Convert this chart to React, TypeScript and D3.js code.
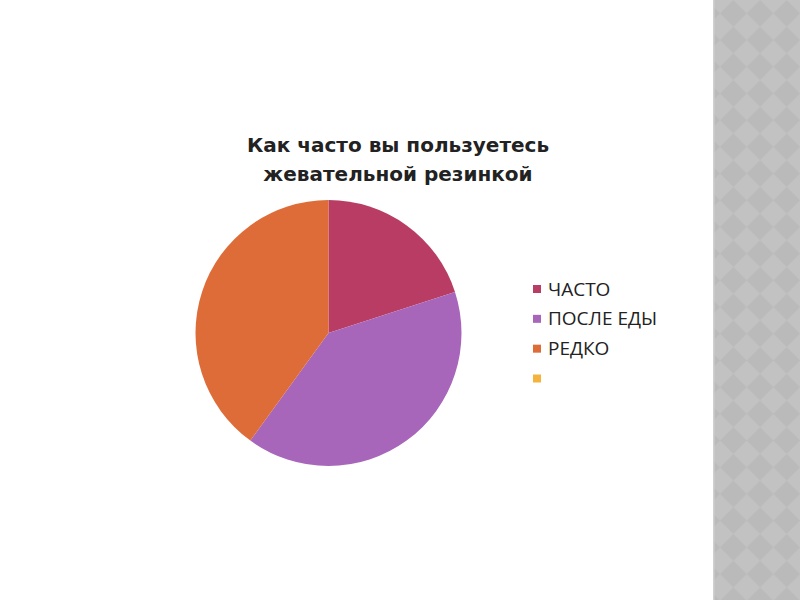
import React from "react";
import * as d3 from "d3";

const categories = ["ЧАСТО", "ПОСЛЕ ЕДЫ", "РЕДКО", ""];
const values = [20, 40, 40, 0];
const colors = ["#b83c64", "#a866bb", "#dd6c38", "#f4b33c"];
const titleLines = ["Как часто вы пользуетесь", "жевательной резинкой"];

export default function App() {
  const cx = 328.5, cy = 333, r = 133;
  const pie = d3.pie<number>().sort(null).value((d) => d)(values);
  const arc = d3.arc<d3.PieArcDatum<number>>().innerRadius(0).outerRadius(r);
  const legendY = d3.scalePoint<number>().domain(d3.range(categories.length)).range([289, 378.5]);
  const font = "'Open Sans', 'DejaVu Sans', sans-serif";
  return (
    <svg width={800} height={600} style={{ position: "absolute", left: 0, top: 0 }}>
      <defs>
        <pattern id="diam" patternUnits="userSpaceOnUse" width={26.7} height={26.7} x={720} y={0}>
          <rect width={26.7} height={26.7} fill="#c2c2c2" />
          <path d="M13.35,0 L26.7,13.35 L13.35,26.7 L0,13.35 Z" fill="#bababa" />
        </pattern>
      </defs>
      <rect width={800} height={600} fill="#ffffff" />
      <rect x={713} y={0} width={87} height={600} fill="url(#diam)" />
      <rect x={713} y={0} width={1.5} height={600} fill="#d0d0d0" />
      <g fontFamily="'DejaVu Sans', sans-serif" fontWeight={700} fontSize={20} fill="#222" textAnchor="middle">
        {titleLines.map((t, i) => (
          <text key={i} x={398} y={152 + i * 28.5}>{t}</text>
        ))}
      </g>
      <g transform={`translate(${cx},${cy})`}>
        {pie.map((p, i) => (
          <path key={i} d={arc(p) || ""} fill={colors[i]} />
        ))}
      </g>
      <g fontFamily={font} fontSize={19} fill="#222">
        {categories.map((c, i) => (
          <g key={i} transform={`translate(533,${legendY(i)})`}>
            <rect x={0} y={-4} width={8} height={8} fill={colors[i]} />
            <text x={15} y={6.5}>{c}</text>
          </g>
        ))}
      </g>
    </svg>
  );
}
